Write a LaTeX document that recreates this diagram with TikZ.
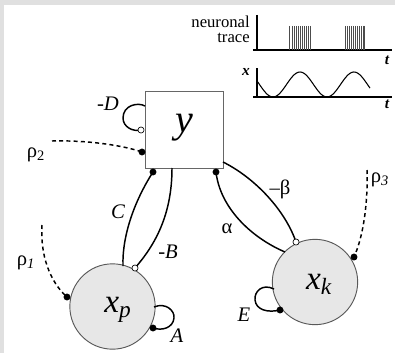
\documentclass[tikz,border=0pt]{standalone}
\usepackage{fontspec}
\setmainfont{Liberation Serif}
\definecolor{bggray}{HTML}{E0E0E0}
\definecolor{cellgray}{HTML}{E7E7E7}
\begin{document}
\begin{tikzpicture}[x=0.75pt,y=-0.75pt,
  conn/.style={line width=1.1pt, black},
  dsh/.style={line width=1.1pt, dash pattern=on 3pt off 2.4pt},
  dotf/.style={circle, fill=black, inner sep=0pt, minimum size=5.2pt},
  doto/.style={circle, draw=black, fill=white, line width=0.5pt, inner sep=0pt, minimum size=4.6pt},
  lab/.style={font=\fontsize{15.5}{17}\selectfont\itshape, inner sep=0pt},
  glab/.style={font=\fontsize{15.5}{17}\selectfont, inner sep=0pt},
  cell/.style={circle, draw=black!65, fill=cellgray, line width=0.7pt, minimum size=64pt, inner sep=0pt},
  ax/.style={line width=0.8pt},
  spike/.style={line width=0.65pt, black!70},
  tlab/.style={font=\fontsize{11.5}{12}\selectfont\bfseries\itshape, inner sep=0pt}
]
% background frame
\fill[bggray] (0,0) rectangle (395,353);
\fill[white] (4,5) rectangle (395,353);
\useasboundingbox (0,0) rectangle (395,353);

% main nodes
\node[draw=black!60, fill=white, line width=0.7pt, minimum width=58.5pt, minimum height=57.75pt, inner sep=0pt] (Y) at (184,129.5) {};
\node[font=\fontsize{30}{31}\selectfont\itshape, inner sep=0pt] (ylab) at (184,128) {y};
\node[cell] (XP) at (112.5,306.5) {};
\node[cell] (XK) at (315,282) {};
\node[font=\fontsize{25}{26}\selectfont\itshape, inner sep=0pt] (xplab) at (118,310) {x\textsubscript{p}};
\node[font=\fontsize{25}{26}\selectfont\itshape, inner sep=0pt] (xklab) at (319,284) {x\textsubscript{k}};

% endpoint coordinates
\coordinate (Yc) at (153,172);
\coordinate (Yb) at (172,168);
\coordinate (Ya) at (216,172);
\coordinate (Ybe) at (223,162);
\coordinate (Yd1) at (145,106);
\coordinate (Yd2) at (141,130);
\coordinate (Yr2) at (142,152);
\coordinate (XPc) at (123,266);
\coordinate (XPb) at (135,268);
\coordinate (XPr1) at (67,297);
\coordinate (XPa1) at (154,307);
\coordinate (XPa2) at (153,328);
\coordinate (XKa) at (285,252);
\coordinate (XKbe) at (296,242);
\coordinate (XKr3) at (354,257);
\coordinate (XKe1) at (274,289);
\coordinate (XKe2) at (280,310);
\coordinate (r2s) at (52,141);
\coordinate (r1s) at (42,225);
\coordinate (r3s) at (367,170);

% connectors
\draw[conn] (Yc) .. controls (135,200) and (122,235) .. (XPc);
\draw[conn] (Yb) .. controls (172,215) and (155,245) .. (XPb);
\draw[conn] (Ya) .. controls (220,207) and (250,237) .. (XKa);
\draw[conn] (Ybe) .. controls (255,178) and (285,210) .. (XKbe);
% self loops
\draw[conn] (Yd1) .. controls (138,102) and (123,105) .. (123,118) .. controls (123,127) and (133,132) .. (Yd2);
\draw[conn] (XPa1) .. controls (166,302) and (175,311) .. (174,318) .. controls (173,328) and (162,331) .. (XPa2);
\draw[conn] (XKe1) .. controls (262,283) and (254,292) .. (255,300) .. controls (256,310) and (268,313) .. (XKe2);
% dashed inputs
\draw[dsh] (r2s) .. controls (90,140) and (125,146) .. (Yr2);
\draw[dsh] (r1s) .. controls (40,255) and (50,282) .. (XPr1);
\draw[dsh] (r3s) .. controls (368,200) and (364,235) .. (XKr3);

% terminals
\node[dotf] at (Yc) {};
\node[dotf] at (Ya) {};
\node[dotf] at (Yr2) {};
\node[dotf] at (XPr1) {};
\node[dotf] at (XPa2) {};
\node[dotf] at (XKr3) {};
\node[dotf] at (XKe2) {};
\node[doto] at (Yd2) {};
\node[doto] at (XPb) {};
\node[doto] at (XKbe) {};

% labels
\node[lab] (lD) at (108,104) {-D};
\node[lab] (lC) at (118,212) {C};
\node[lab] (lB) at (168,252) {-B};
\node[lab] (lA) at (177,336) {A};
\node[lab] (lE) at (244,315) {E};
\node[glab] (lal) at (227,229) {α};
\node[glab] (lbe) at (280,189) {–β};
\node[glab] (lr2) at (36,155) {ρ\textsubscript{2}};
\node[glab] (lr1) at (26,263) {ρ\textsubscript{\itshape 1}};
\node[glab] (lr3) at (380,180) {ρ\textsubscript{\itshape 3}};

% inset: neuronal trace
\node[font=\fontsize{12.5}{11}\selectfont, align=right, anchor=north east, inner sep=0pt] (nt) at (250,16) {neuronal\\trace};
\draw[ax] (257,15) -- (257,50);
\draw[ax] (253,50) -- (392,50);
\foreach \s in {289,292.5,294.5,296.5,298.5,300.5,302.5,304.5,306.5,308.5,310} \draw[spike] (\s,26) -- (\s,50);
\foreach \s in {345,347,349,351,353,355,357,359,361,363,364.5} \draw[spike] (\s,26) -- (\s,50);
\node[tlab] (t1) at (387,60) {t};
% inset: x trace
\draw[ax] (257,68) -- (257,97);
\draw[ax] (253,97) -- (392,97);
\draw[line width=0.8pt] plot[domain=257:370, samples=90, smooth] (\x, {84.5+12.5*cos(6.6667*(\x-273))});
\node[tlab] (xl) at (246,72) {x};
\node[tlab] (t2) at (387,104) {t};
\end{tikzpicture}
\end{document}
